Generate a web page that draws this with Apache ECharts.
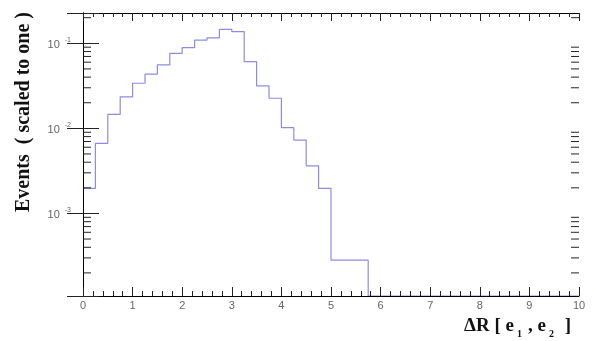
<!DOCTYPE html>
<html>
<head>
<meta charset="utf-8">
<script src="https://cdn.jsdelivr.net/npm/echarts@6/dist/echarts.min.js"></script>
<style>html,body{margin:0;padding:0;background:#fff}#c{width:593px;height:341px}</style>
</head>
<body>
<div id="c"></div>
<script>
// Histogram: Delta R between e1 and e2, 40 bins of width 0.25 from 0 to 10
var binWidth = 0.25;
var xMin = 0, xMax = 10;
var yMin = 1.07e-4, yMax = 0.227;
var values = [0.00197, 0.00667, 0.0146, 0.0235, 0.0339, 0.0435, 0.0556, 0.0762,
  0.0888, 0.109, 0.116, 0.146, 0.137, 0.0608, 0.0315, 0.0226,
  0.0102, 0.00728, 0.00363, 0.00197, 0.000282, 0.000282, 0.000282, 0,
  0, 0, 0, 0, 0, 0, 0, 0,
  0, 0, 0, 0, 0, 0, 0, 0];
var xTickLabels = ['0','1','2','3','4','5','6','7','8','9','10'];
var yMinorTicks = [2e-4,3e-4,4e-4,5e-4,6e-4,7e-4,8e-4,9e-4,
  2e-3,3e-3,4e-3,5e-3,6e-3,7e-3,8e-3,9e-3,
  2e-2,3e-2,4e-2,5e-2,6e-2,7e-2,8e-2,9e-2, 2e-1];
var yTitle = 'Events  ( scaled to one )';

var stepData = [];
for (var i = 0; i < values.length; i++) {
  var v = values[i] > 0 ? values[i] : yMin;
  stepData.push([xMin + i * binWidth, v]);
}
stepData.push([xMax, values[values.length - 1] > 0 ? values[values.length - 1] : yMin]);

function yLabel(v) {
  var e = Math.log(v) / Math.LN10;
  var r = Math.round(e);
  if (Math.abs(e - r) > 1e-6 || r <= -4) return '';
  return '{b|10}{s|' + r + '}';
}

var chart = echarts.init(document.getElementById('c'), null, {renderer: 'canvas'});
var axisCommon = {
  z: 10,
  axisLine: {show: true, lineStyle: {color: '#000', width: 1}},
  splitLine: {show: false}
};
chart.setOption({
  animation: false,
  backgroundColor: '#fff',
  grid: {left: 83, right: 14, top: 13, bottom: 45, containLabel: false},
  xAxis: [
    Object.assign({}, axisCommon, {
      type: 'value', min: xMin, max: xMax, interval: 1, position: 'bottom',
      axisTick: {show: true, inside: true, length: 9, lineStyle: {color: '#222'}},
      minorTick: {show: true, splitNumber: 5, length: 5, lineStyle: {color: '#222'}},
      axisLabel: {show: true, margin: 4, color: '#666', fontFamily: 'Liberation Sans, Arial', fontSize: 11,
        formatter: function (v) { return xTickLabels[Math.round(v)]; }}
    }),
    Object.assign({}, axisCommon, {
      type: 'value', min: xMin, max: xMax, interval: 1, position: 'top',
      axisTick: {show: true, inside: true, length: 8, lineStyle: {color: '#222'}},
      minorTick: {show: true, splitNumber: 5, length: 4, lineStyle: {color: '#222'}},
      axisLabel: {show: false}
    })
  ],
  yAxis: [
    Object.assign({}, axisCommon, {
      type: 'log', logBase: 10, min: yMin, max: yMax, position: 'left',
      axisTick: {show: true, inside: true, length: 16, lineStyle: {color: '#222'}},
      axisLabel: {show: true, margin: 12, formatter: yLabel,
        rich: {
          b: {fontSize: 11, color: '#666', fontFamily: 'Liberation Sans, Arial', lineHeight: 14, verticalAlign: 'bottom', padding: [4, 0, 0, 0]},
          s: {fontSize: 7, color: '#666', fontFamily: 'Liberation Sans, Arial', lineHeight: 8, verticalAlign: 'top', padding: [0, 0, 0, 5]}
        }}
    }),
    Object.assign({}, axisCommon, {
      type: 'log', logBase: 10, min: yMin, max: yMax, position: 'right',
      axisTick: {show: true, inside: true, length: 16, lineStyle: {color: '#222'}},
      axisLabel: {show: false}
    })
  ],
  graphic: [{
    type: 'text', x: 24, y: 12, rotation: Math.PI / 2,
    style: {text: yTitle, fill: '#111', font: 'bold 20px "Liberation Serif", "Times New Roman", serif',
      textAlign: 'right', textVerticalAlign: 'middle'}
  }],
  title: {
    text: '{t|ΔR [ e}{sub|1}{t|, e}{sub|2}{t| ]}',
    right: 22, bottom: 2, padding: 0,
    textStyle: {
      rich: {
        t: {fontSize: 19, fontWeight: 'bold', fontFamily: '"Liberation Serif", serif', color: '#111', lineHeight: 22, verticalAlign: 'top'},
        sub: {fontSize: 10, fontWeight: 'bold', fontFamily: '"Liberation Serif", serif', color: '#111', lineHeight: 10, verticalAlign: 'bottom', padding: [0, 6, 0, 3]}
      }
    }
  },
  series: [
    {
      type: 'line', xAxisIndex: 0, yAxisIndex: 0, step: 'end', data: stepData, z: 2,
      showSymbol: false, symbol: 'none', clip: true,
      lineStyle: {color: '#8c8ce6', width: 1.2}
    },
    {
      type: 'custom', xAxisIndex: 0, yAxisIndex: 0, clip: false, z: 11,
      data: yMinorTicks.map(function (v) { return [xMin, v]; }),
      renderItem: function (params, api) {
        var v = api.value(1);
        var l = api.coord([xMin, v]);
        var r = api.coord([xMax, v]);
        return {type: 'group', children: [
          {type: 'line', shape: {x1: l[0], y1: l[1], x2: l[0] + 8, y2: l[1]}, style: {stroke: '#222', lineWidth: 1}},
          {type: 'line', shape: {x1: r[0], y1: r[1], x2: r[0] - 8, y2: r[1]}, style: {stroke: '#222', lineWidth: 1}}
        ]};
      }
    }
  ]
});
</script>
</body>
</html>
